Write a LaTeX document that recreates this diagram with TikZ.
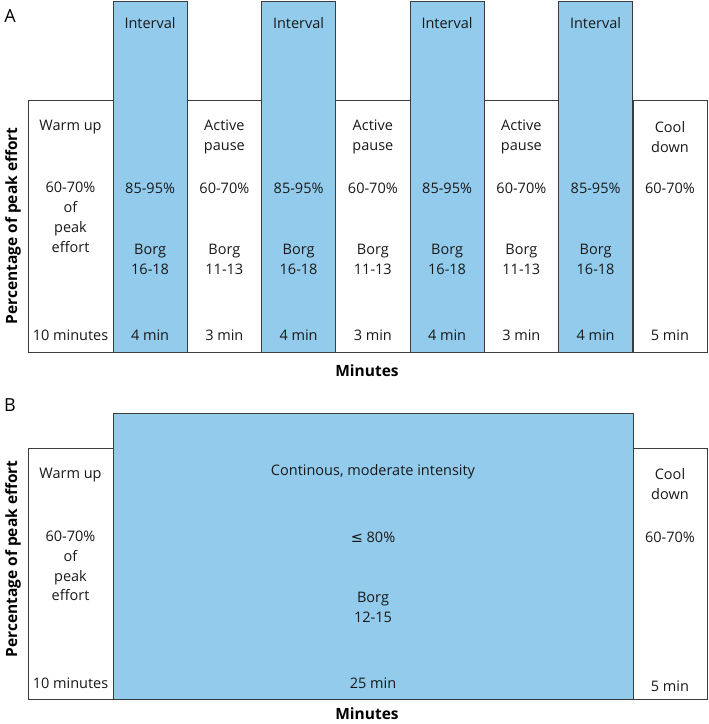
\documentclass[tikz,border=0pt]{standalone}
\usepackage{fontspec}
\setmainfont{Open Sans}
\newfontfamily\symfont{DejaVu Sans}
\definecolor{intblue}{RGB}{146,203,236}
\definecolor{edgegray}{RGB}{60,60,60}

\begin{document}
\begin{tikzpicture}[
  x=1pt,y=-1pt,
  phase/.style={draw=edgegray,line width=0.9pt,fill=white},
  work/.style={phase,fill=intblue},
  lbl/.style={font=\fontsize{14.5}{19.8}\selectfont,align=center,inner sep=0pt,text=black!90},
  axislbl/.style={font=\bfseries\fontsize{15.5}{18}\selectfont,inner sep=0pt},
  panel/.style={font=\fontsize{18}{20}\selectfont,inner sep=0pt}
]
\useasboundingbox (0,0) rectangle (709,724);

% panel A
\node[panel] (tagA) at (10,16) {A};
\draw[phase] (28,100) rectangle (113,352);
\foreach \i in {0,1,2,3}{
  \pgfmathsetmacro{\xl}{113+148.5*\i}
  \draw[work] (\xl,1) rectangle ++(74.25,351);
  \node[lbl] (intA\i) at (\xl+37.1,23) {Interval};
  \node[lbl] (pctA\i) at (\xl+37.1,188) {85-95\%};
  \node[lbl] (borgA\i) at (\xl+37.1,259) {Borg\\16-18};
  \node[lbl] (minA\i) at (\xl+37.1,335) {4 min};
}
\foreach \i in {0,1,2}{
  \pgfmathsetmacro{\xl}{187.25+148.5*\i}
  \draw[phase] (\xl,100) rectangle ++(74.25,252);
  \node[lbl] (pauseA\i) at (\xl+37.1,137) {Active\\pause};
  \node[lbl] (ppctA\i) at (\xl+37.1,188) {60-70\%};
  \node[lbl] (pborgA\i) at (\xl+37.1,259) {Borg\\11-13};
  \node[lbl] (pminA\i) at (\xl+37.1,335) {3 min};
}
\draw[phase] (633,100) rectangle (707,352);
\node[lbl] (warmA) at (70.5,127) {Warm up};
\node[lbl] (wpctA) at (70.5,217.5) {60-70\%\\of\\peak\\effort};
\node[lbl] (wminA) at (70.5,335) {10 minutes};
\node[lbl] (coolA) at (670,137) {Cool\\down};
\node[lbl] (cpctA) at (670,188) {60-70\%};
\node[lbl] (cminA) at (670,335) {5 min};
\node[axislbl,rotate=90] (yA) at (13,226) {Percentage of peak effort};
\node[axislbl] (xA) at (367,371) {Minutes};

% panel B
\node[panel] (tagB) at (10,405) {B};
\draw[phase] (28,448) rectangle (113,699);
\draw[work] (113,413) rectangle (633,699);
\draw[phase] (633,448) rectangle (707,699);
\node[lbl] (warmB) at (70.5,475) {Warm up};
\node[lbl] (wpctB) at (70.5,566) {60-70\%\\of\\peak\\effort};
\node[lbl] (wminB) at (70.5,683) {10 minutes};
\node[lbl] (contB) at (373,472) {Continous, moderate intensity};
\node[lbl] (pctB) at (373,537) {{\symfont ≤} 80\%};
\node[lbl] (borgB) at (373,607) {Borg\\12-15};
\node[lbl] (minB) at (373,683) {25 min};
\node[lbl] (coolB) at (670,484) {Cool\\down};
\node[lbl] (cpctB) at (670,537) {60-70\%};
\node[lbl] (cminB) at (670,686) {5 min};
\node[axislbl,rotate=90] (yB) at (13,559) {Percentage of peak effort};
\node[axislbl] (xB) at (367,714) {Minutes};
\end{tikzpicture}
\end{document}
